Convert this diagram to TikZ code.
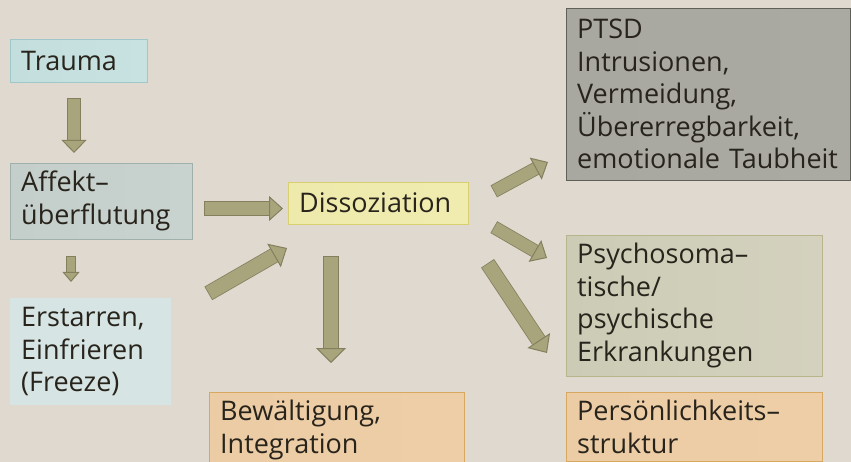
\documentclass[tikz,border=0pt]{standalone}
\usepackage{fontspec}
\setmainfont{Open Sans}
\usetikzlibrary{arrows.meta,positioning}

\definecolor{bgcol}{RGB}{224,217,208}
\definecolor{txtcol}{RGB}{40,36,28}
\definecolor{arrfill}{RGB}{168,164,124}
\definecolor{arrline}{RGB}{132,128,94}

\tikzset{
box/.style={anchor=north west, align=left, inner xsep=11pt, inner ysep=8pt, text=txtcol, font=\fontsize{27}{32.5}\selectfont},
blk/.style n args={3}{draw=arrfill, line width=#1, -{Triangle[length=#3, width=#2, color=arrline, fill=arrfill, line width=1pt]},
  preaction={draw=arrline, arrows=-, line width=#1+1.6pt, shorten >=#3, shorten <=-0.8pt}}
}

\begin{document}
\begin{tikzpicture}[x=1pt,y=-1pt]
\fill[bgcol] (0,0) rectangle (851,462);
\useasboundingbox (0,0) rectangle (851,462);

\node (trauma) at (10,39) [box, text width=115pt, minimum height=43pt, draw={rgb,255:red,160;green,200;blue,200},
  left color={rgb,255:red,196;green,222;blue,222}, middle color={rgb,255:red,172;green,204;blue,204}, right color={rgb,255:red,200;green,226;blue,226}] {Trauma};
\node (affekt) at (10,163) [box, text width=160pt, minimum height=74pt, draw={rgb,255:red,160;green,176;blue,172},
  left color={rgb,255:red,196;green,206;blue,202}, middle color={rgb,255:red,168;green,180;blue,176}, right color={rgb,255:red,200;green,210;blue,206}] {Affekt–\\überflutung};
\node (erstarren) at (10,298) [box, text width=139pt, minimum height=107pt, fill={rgb,255:red,214;green,228;blue,228}] {Erstarren,\\Einfrieren\\(Freeze)};
\node (dissoz) at (288,182) [box, text width=158pt, minimum height=42pt, draw={rgb,255:red,216;green,208;blue,112},
  left color={rgb,255:red,238;green,234;blue,172}, middle color={rgb,255:red,220;green,214;blue,142}, right color={rgb,255:red,240;green,236;blue,176}] {Dissoziation};
\node (bewaelt) at (209,392) [box, text width=233pt, draw={rgb,255:red,216;green,168;blue,96},
  left color={rgb,255:red,236;green,204;blue,164}, middle color={rgb,255:red,214;green,180;blue,140}, right color={rgb,255:red,238;green,206;blue,166}] {Bewältigung,\\Integration};
\node (ptsd) at (566,8) [box, text width=262pt, minimum height=172pt, draw={rgb,255:red,96;green,96;blue,88},
  left color={rgb,255:red,168;green,168;blue,160}, middle color={rgb,255:red,136;green,136;blue,128}, right color={rgb,255:red,170;green,170;blue,162}] {PTSD\\Intrusionen,\\Vermeidung,\\Übererregbarkeit,\\emotionale Taubheit};
\node (psycho) at (566,235) [box, text width=234pt, minimum height=139pt, draw={rgb,255:red,184;green,180;blue,140},
  left color={rgb,255:red,204;green,204;blue,182}, middle color={rgb,255:red,184;green,184;blue,160}, right color={rgb,255:red,212;green,210;blue,190}] {Psychosoma–\\tische/\\psychische\\Erkrankungen};
\node (persoen) at (566,392) [box, text width=234pt, draw={rgb,255:red,216;green,168;blue,96},
  left color={rgb,255:red,236;green,204;blue,164}, middle color={rgb,255:red,214;green,180;blue,140}, right color={rgb,255:red,238;green,206;blue,166}] {Persönlichkeits–\\struktur};

\coordinate (s1) at (74,99);    \coordinate (e1) at (74,153);
\coordinate (s2) at (71,257);   \coordinate (e2) at (71,282);
\coordinate (s3) at (205,208.5); \coordinate (e3) at (283,208.5);
\coordinate (s4) at (209,293);  \coordinate (e4) at (287,248);
\coordinate (s5) at (331,257);  \coordinate (e5) at (331,363);
\coordinate (s6) at (494.5,191); \coordinate (e6) at (548,162);
\coordinate (s7) at (494.5,227.5); \coordinate (e7) at (547,258);
\coordinate (s8) at (488,264);  \coordinate (e8) at (547,353);

\foreach \n/\sw/\hw/\hl in {1/12/25/13,2/8/17/10,3/13/25/14,4/14/27/15,5/14/30/15,6/12/25/14,7/12/25/14,8/14/27/15} {
\draw[blk={\sw pt}{\hw pt}{\hl pt}] (s\n) -- (e\n);
};
\end{tikzpicture}
\end{document}
